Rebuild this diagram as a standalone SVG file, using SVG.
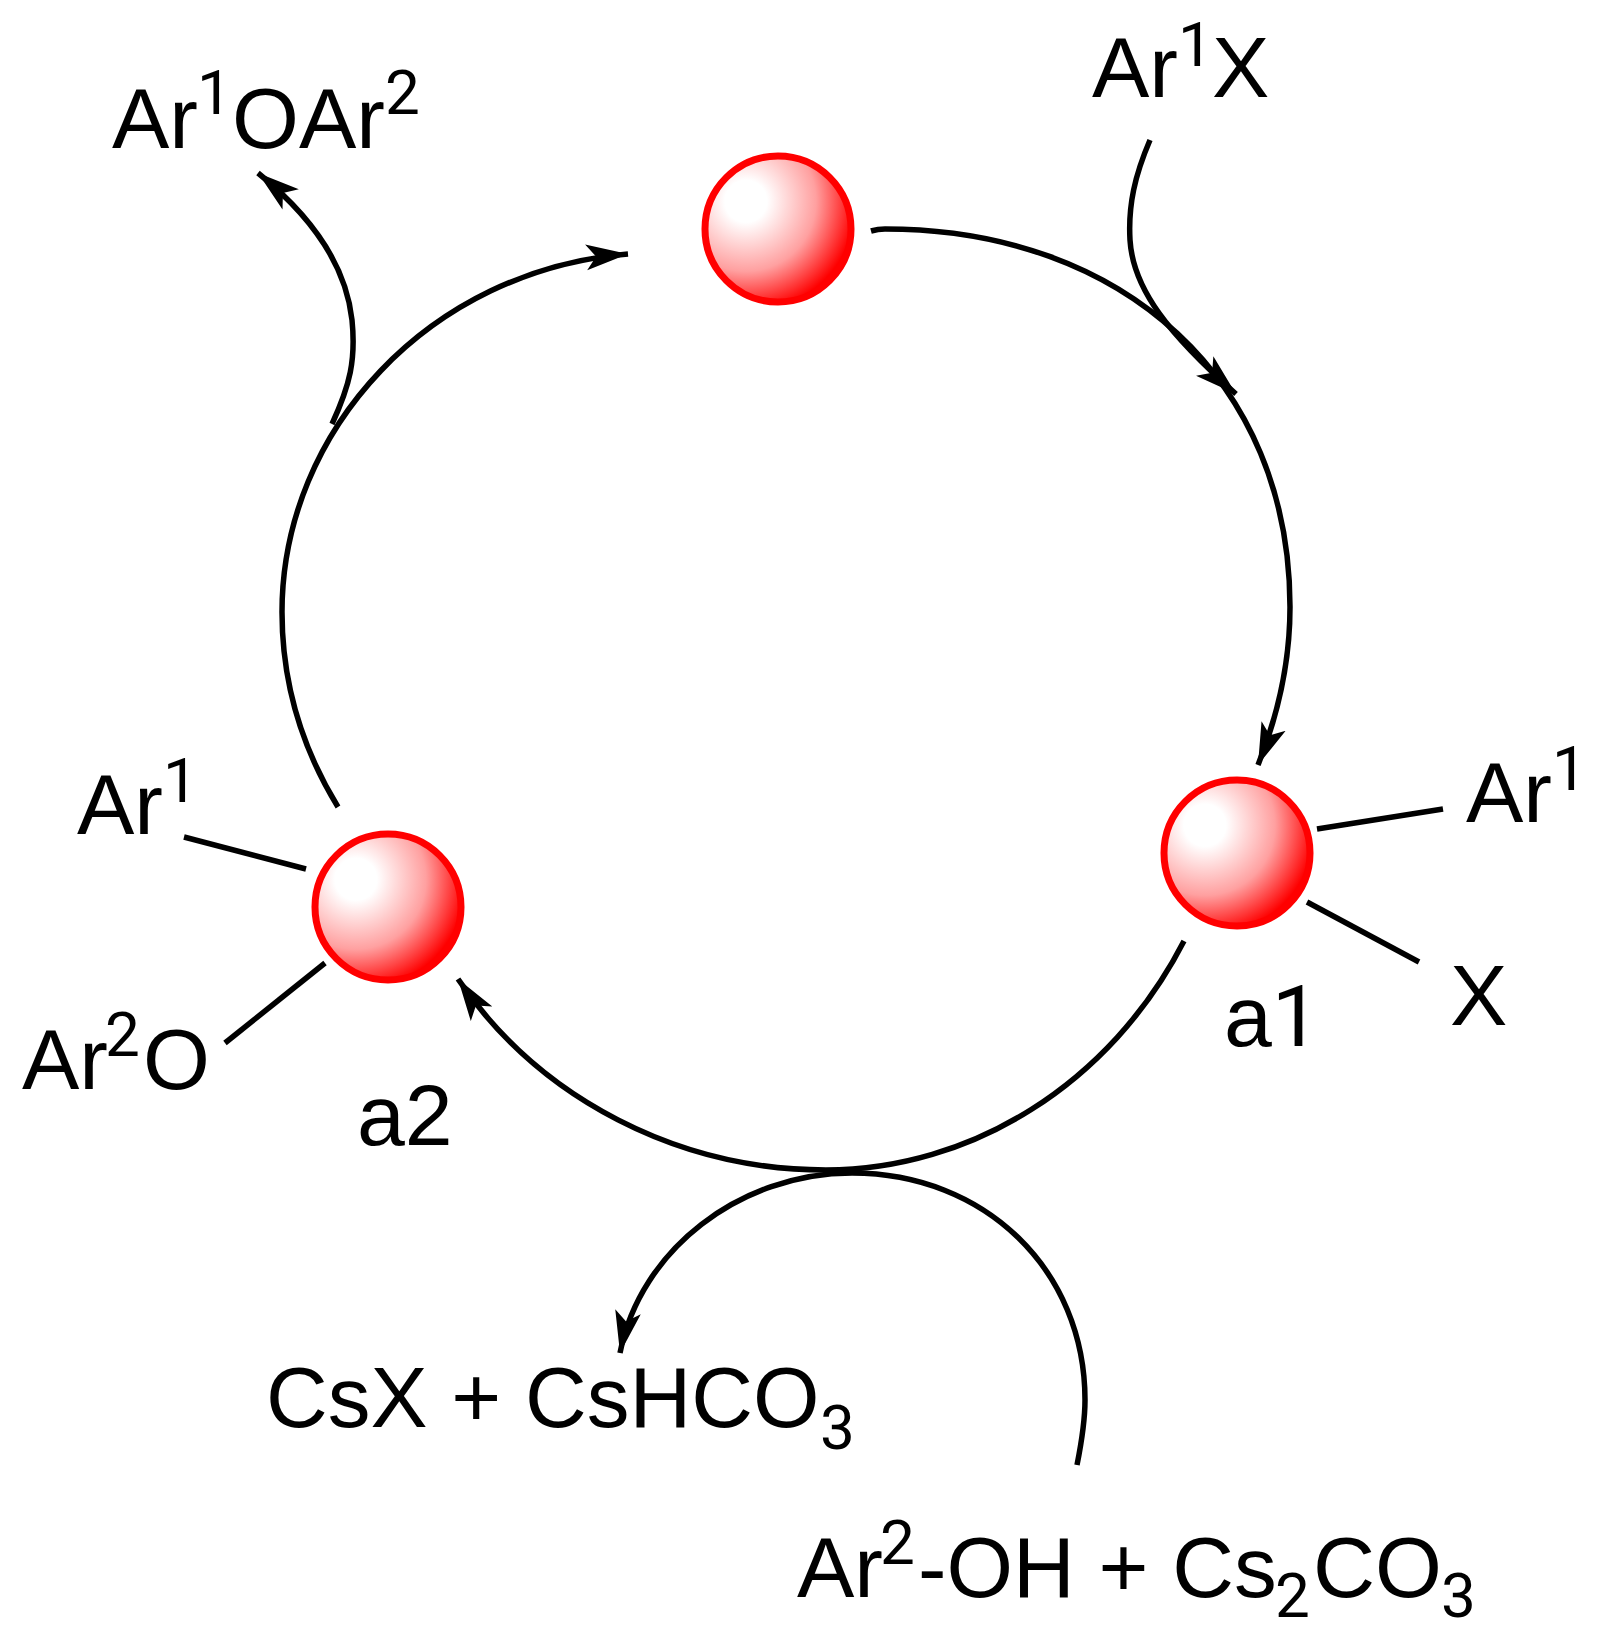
<svg xmlns="http://www.w3.org/2000/svg" width="1597" height="1640" viewBox="0 0 1597 1640">
<defs>
<radialGradient id="ball" cx="0.28" cy="0.31" r="0.8"><stop offset="0" stop-color="#ffffff"/><stop offset="0.18" stop-color="#ffffff"/><stop offset="0.6" stop-color="#ffa0a0"/><stop offset="0.95" stop-color="#ff0000"/></radialGradient>
<marker id="arr" markerUnits="userSpaceOnUse" markerWidth="46" markerHeight="28" refX="42" refY="14" orient="auto"><path d="M0 1 L42 14 L0 27 L10 14 Z" fill="#000"/></marker>
</defs>
<style>
text{font-family:"Liberation Sans",Arial,sans-serif;font-size:86px;fill:#000}
.s{font-family:Roboto,"Liberation Sans",sans-serif;font-size:62px}
.d{font-family:Roboto,"Liberation Sans",sans-serif}
.n{font-size:85.5px}
.c{fill:none;stroke:#000;stroke-width:5.5}
circle{fill:url(#ball);stroke:#ff0000;stroke-width:7}
</style>
<rect width="1597" height="1640" fill="#fff"/>
<g id="connectors">
<path class="c" marker-end="url(#arr)" d="M871 231 Q878 229 885 229 C1125 229 1290 382 1290 607 C1290 660 1278 715 1258 765"/>
<path class="c" marker-end="url(#arr)" d="M1184 941 C1110 1085 970 1170 826 1170 C680 1170 540 1100 458 979"/>
<path class="c" marker-end="url(#arr)" d="M338 807 C300 745 282 680 282 612 C282 430 430 270 628 254"/>
<path class="c" marker-end="url(#arr)" d="M1150 140 C1135 175 1128 205 1130 240 C1133 290 1170 335 1236 394"/>
<path class="c" marker-end="url(#arr)" d="M332 424 C350 385 356 360 352 320 C346 265 310 215 258 173"/>
<path class="c" marker-end="url(#arr)" d="M1077 1465 C1082 1440 1085 1420 1085 1400 C1085 1270 985 1173 852 1173 C740 1173 640 1250 620 1353"/>
<path class="c" d="M1317 829 L1443 809"/>
<path class="c" d="M1307 902 L1419 962"/>
<path class="c" d="M184 837 L306 869"/>
<path class="c" d="M325 963 L225 1043"/>
</g>
<g id="node-catalyst"><circle cx="778" cy="229" r="73"/></g>
<g id="node-a1"><circle cx="1237" cy="853" r="73"/><text x="1224" y="1046">a<tspan class="d">1</tspan></text></g>
<g id="node-a2"><circle cx="388" cy="907" r="73"/><text x="357" y="1145">a2</text></g>
<g id="labels">
<text x="112" y="148">Ar</text><text class="s" x="197" y="114">1</text><text x="232" y="148">OAr</text><text class="s" x="385" y="114">2</text>
<text x="1092" y="97">Ar</text><text class="s" x="1178" y="66">1</text><text x="1212" y="97">X</text>
<text x="1466" y="822">Ar</text><text class="s" x="1552" y="790">1</text>
<text x="77" y="834">Ar</text><text class="s" x="163" y="802">1</text>
<text x="1450" y="1025">X</text>
<text x="22" y="1089">Ar</text><text class="s" x="105" y="1056">2</text><text x="143" y="1089">O</text>
<text class="n" x="266" y="1427">CsX + CsHCO</text><text class="s" x="820" y="1449">3</text>
<text x="797" y="1597">Ar</text><text class="s" x="880" y="1564">2</text><text class="n" x="918" y="1597">-OH + Cs</text><text class="s" x="1275" y="1617">2</text><text x="1313" y="1597">CO</text><text class="s" x="1441" y="1617">3</text>
</g>
</svg>
